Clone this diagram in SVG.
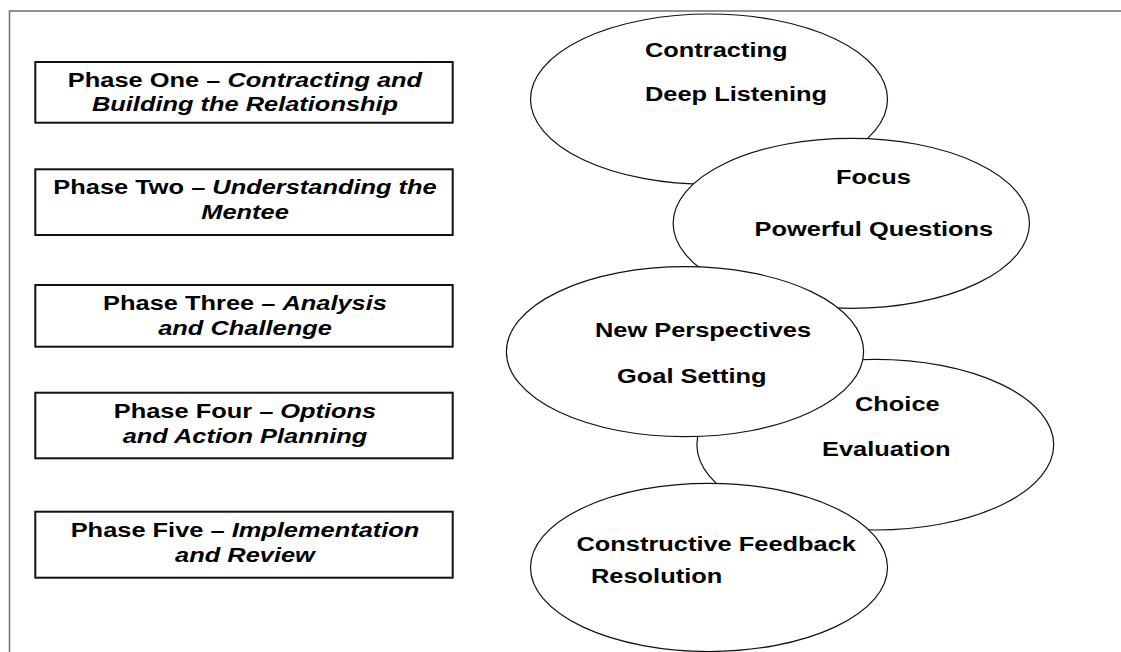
<svg xmlns="http://www.w3.org/2000/svg" width="1121" height="652" viewBox="0 0 1121 652">
  <style>
    .t { font-family: "Liberation Sans", Arial, Helvetica, sans-serif; font-weight: bold; font-size: 20px; fill: #000; }
    .i { font-style: italic; }
    .c { text-anchor: middle; }
    .box { fill: #fff; stroke: #111; stroke-width: 2; }
    .ell { fill: #fff; stroke: #111; stroke-width: 1.2; }
    .frame { fill: none; stroke: #6e6e6e; stroke-width: 1.5; }
  </style>
  <rect width="1121" height="652" fill="#fff"/>
  <path class="frame" d="M9.5,652 V11 H1121"/>

  <g id="phase1">
    <rect class="box" x="35.3" y="62" width="417.4" height="60.7"/>
    <text class="t c" transform="translate(245,87.3) scale(1.27,1)">Phase One – <tspan class="i">Contracting and</tspan></text>
    <text class="t c i" transform="translate(245,111) scale(1.27,1)">Building the Relationship</text>
  </g>
  <g id="phase2">
    <rect class="box" x="35.3" y="169.3" width="417.4" height="65.7"/>
    <text class="t c" transform="translate(245,194.3) scale(1.27,1)">Phase Two – <tspan class="i">Understanding the</tspan></text>
    <text class="t c i" transform="translate(245,219.3) scale(1.27,1)">Mentee</text>
  </g>
  <g id="phase3">
    <rect class="box" x="35.3" y="285" width="417.4" height="61.7"/>
    <text class="t c" transform="translate(245,310) scale(1.27,1)">Phase Three – <tspan class="i">Analysis</tspan></text>
    <text class="t c i" transform="translate(245,335) scale(1.27,1)">and Challenge</text>
  </g>
  <g id="phase4">
    <rect class="box" x="35.3" y="392.7" width="417.4" height="65.6"/>
    <text class="t c" transform="translate(245,417.7) scale(1.27,1)">Phase Four – <tspan class="i">Options</tspan></text>
    <text class="t c i" transform="translate(245,442.7) scale(1.27,1)">and Action Planning</text>
  </g>
  <g id="phase5">
    <rect class="box" x="35.3" y="511.7" width="417.4" height="66"/>
    <text class="t c" transform="translate(245,537.3) scale(1.27,1)">Phase Five – <tspan class="i">Implementation</tspan></text>
    <text class="t c i" transform="translate(245,562) scale(1.27,1)">and Review</text>
  </g>

  <g id="connectors"/>

  <g id="ellipse1">
    <ellipse class="ell" cx="709" cy="99.2" rx="178.5" ry="85.2"/>
    <text class="t" transform="translate(645,57.3) scale(1.27,1)">Contracting</text>
    <text class="t" transform="translate(645,101) scale(1.27,1)">Deep Listening</text>
  </g>
  <g id="ellipse2">
    <ellipse class="ell" cx="851.3" cy="223.3" rx="178.2" ry="85"/>
    <text class="t" transform="translate(836,184) scale(1.27,1)">Focus</text>
    <text class="t" transform="translate(754.6,236) scale(1.27,1)">Powerful Questions</text>
  </g>
  <g id="ellipse4">
    <ellipse class="ell" cx="875.3" cy="444.7" rx="178.4" ry="85.3"/>
    <text class="t" transform="translate(855,410.7) scale(1.27,1)">Choice</text>
    <text class="t" transform="translate(822,456) scale(1.27,1)">Evaluation</text>
  </g>
  <g id="ellipse3">
    <ellipse class="ell" cx="685" cy="351.7" rx="178.6" ry="85"/>
    <text class="t" transform="translate(595,336.7) scale(1.27,1)">New Perspectives</text>
    <text class="t" transform="translate(617,383) scale(1.27,1)">Goal Setting</text>
  </g>
  <g id="ellipse5">
    <ellipse class="ell" cx="709" cy="567.4" rx="178.5" ry="84.1"/>
    <text class="t" transform="translate(576.5,550.7) scale(1.27,1)">Constructive Feedback</text>
    <text class="t" transform="translate(591,582.5) scale(1.27,1)">Resolution</text>
  </g>
</svg>
